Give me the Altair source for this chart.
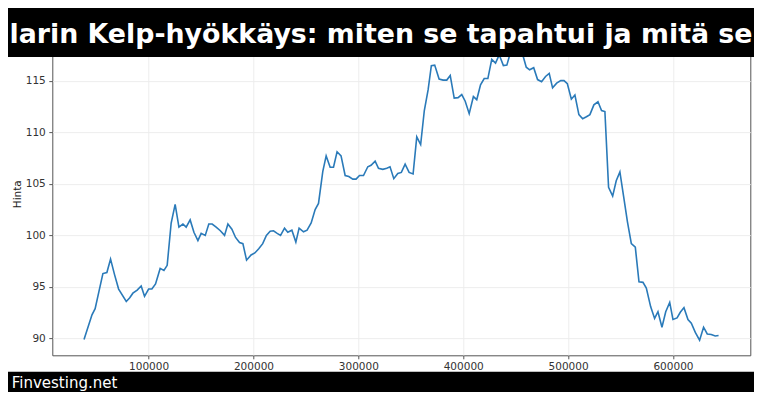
import altair as alt
import pandas as pd

# ---- data ----
x_vals = [38400, 46000, 49000, 52700, 56400, 60200, 63700, 67500, 71400, 78700,
          82000, 85000, 89100, 92900, 96100, 100000, 103100, 106600, 111000, 114600,
          117700, 121500, 125300, 128900, 132700, 135800, 139600, 143200, 147000, 150100,
          154000, 157400, 160600, 164400, 168400, 172400, 175600, 179400, 182900, 186700,
          189900, 193400, 197700, 201300, 205000, 208800, 212300, 215900, 219100, 222600,
          225800, 229600, 232700, 236600, 240400, 243500, 247700, 251100, 255000, 258800,
          262000, 266100, 269300, 273100, 276300, 279700, 283500, 287400, 290900, 294700,
          297800, 301100, 304900, 309000, 312100, 316000, 319200, 323300, 327100, 330200,
          333800, 337600, 341000, 344600, 348400, 352200, 355700, 359400, 362900, 366500,
          369600, 372800, 377000, 380800, 384300, 387600, 391400, 395100, 398600, 401900,
          405700, 409700, 412900, 416500, 420000, 423500, 427200, 430800, 434300, 438300,
          441600, 445500, 449200, 452900, 456200, 460100, 463300, 467200, 470900, 474700,
          478500, 482000, 485200, 489100, 493000, 496100, 499300, 503100, 506500, 510300,
          513900, 517500, 520800, 524600, 528500, 531900, 535100, 538600, 542500, 545900,
          549400, 552900, 556600, 560300, 564100, 567600, 571400, 574600, 578700, 582500,
          585700, 589500, 593100, 596900, 600000, 603900, 607000, 610500, 614300, 617500,
          621300, 625400, 629200, 632700, 636500, 640300, 643500]

prices = [89.9, 92.3, 92.9, 94.6, 96.3, 96.4, 97.7, 96.2, 94.8, 93.6,
          93.95, 94.4, 94.7, 95.1, 94.1, 94.8, 94.8, 95.3, 96.8, 96.6,
          97.1, 101.2, 103.0, 100.8, 101.1, 100.8, 101.5, 100.3, 99.5, 100.2,
          100.0, 101.1, 101.1, 100.8, 100.45, 100.0, 101.1, 100.6, 99.8, 99.3,
          99.2, 97.6, 98.1, 98.3, 98.7, 99.2, 100.0, 100.4, 100.45, 100.2,
          100.0, 100.7, 100.3, 100.5, 99.35, 100.7, 100.35, 100.5, 101.2, 102.5,
          103.1, 106.2, 107.7, 106.6, 106.6, 108.1, 107.7, 105.8, 105.7, 105.45,
          105.45, 105.8, 105.8, 106.65, 106.8, 107.2, 106.5, 106.4, 106.5, 106.65,
          105.5, 106.0, 106.1, 106.9, 106.1, 105.95, 109.55, 108.8, 112.1, 114.1,
          116.45, 116.5, 115.15, 115.05, 115.05, 115.5, 113.3, 113.35, 113.65, 113.0,
          111.8, 113.45, 113.15, 114.6, 115.2, 115.2, 117.05, 116.7, 117.5, 116.45,
          116.5, 117.9, 118.3, 117.8, 117.7, 116.3, 116.05, 116.25, 115.1, 114.9,
          115.4, 115.7, 114.3, 114.75, 115.0, 115.0, 114.7, 113.2, 113.6, 111.7,
          111.3, 111.5, 111.7, 112.65, 112.95, 112.1, 112.0, 104.65, 103.8, 105.3,
          106.15, 103.8, 101.3, 99.2, 98.85, 95.5, 95.45, 94.9, 93.1, 91.95,
          92.6, 91.1, 92.6, 93.5, 91.85, 92.0, 92.55, 93.0, 91.85, 91.5,
          90.6, 89.85, 91.1, 90.45, 90.4, 90.25, 90.3]

title_text = "larin Kelp-hyökkäys: miten se tapahtui ja mitä se"
footer_text = "Finvesting.net"
y_title = "Hinta"
x_ticks = [100000, 200000, 300000, 400000, 500000, 600000]
y_ticks = [90, 95, 100, 105, 110, 115]

df = pd.DataFrame({"x": x_vals, "y": prices})
W, H = 698, 323.2
FONT = "DejaVu Sans"

line = alt.Chart(df).mark_line(color="#2a7ab9", strokeWidth=1.6).encode(
    x=alt.X("x:Q",
            scale=alt.Scale(domain=[8150, 673750], nice=False, zero=False),
            axis=alt.Axis(values=x_ticks, format="d", title=None,
                          labelPadding=2.5, labelFlush=False)),
    y=alt.Y("y:Q",
            scale=alt.Scale(domain=[88.38, 119.7], nice=False, zero=False),
            axis=alt.Axis(values=y_ticks, title=y_title, labelPadding=3.5,
                          titleX=-32, titleY=H / 2, titleAngle=270,
                          titleAlign="center", titleBaseline="alphabetic",
                          titleFont=FONT, titleFontSize=10.5,
                          titleFontWeight="normal", titleColor="#222222")),
)

lab = pd.DataFrame({"t": [title_text]})
foot = pd.DataFrame({"t": [footer_text]})

top_band = alt.Chart(lab).mark_rect(color="black").encode(
    x=alt.value(-60), x2=alt.value(W + 60), y=alt.value(-40), y2=alt.value(24.9))
bottom_band = alt.Chart(foot).mark_rect(color="black").encode(
    x=alt.value(-60), x2=alt.value(W + 60), y=alt.value(339.6), y2=alt.value(380))

title_mark = alt.Chart(lab).mark_text(
    font=FONT, fontWeight="bold", fontSize=26.8, color="white",
    align="center", baseline="alphabetic").encode(
    x=alt.value(328.7), y=alt.value(11.2), text="t:N")

footer_mark = alt.Chart(foot).mark_text(
    font=FONT, fontSize=15, color="white",
    align="left", baseline="alphabetic").encode(
    x=alt.value(-40.6), y=alt.value(355.6), text="t:N")

chart = alt.layer(line, top_band, bottom_band, title_mark, footer_mark).properties(
    width=W, height=H,
    autosize=alt.AutoSizeParams(type="none"),
    padding={"left": 44.3, "top": 24.1, "right": 3.7, "bottom": 36.7},
).configure_view(
    stroke="#555555", strokeWidth=1
).configure_axis(
    domain=False, grid=True, gridColor="#ebebeb", gridWidth=0.9,
    tickColor="#444444", tickSize=3.5, tickWidth=0.9,
    labelColor="#333333", labelFont=FONT, labelFontSize=10.5,
)

chart.save("out.html", embed_options={"renderer": "svg", "actions": False})
